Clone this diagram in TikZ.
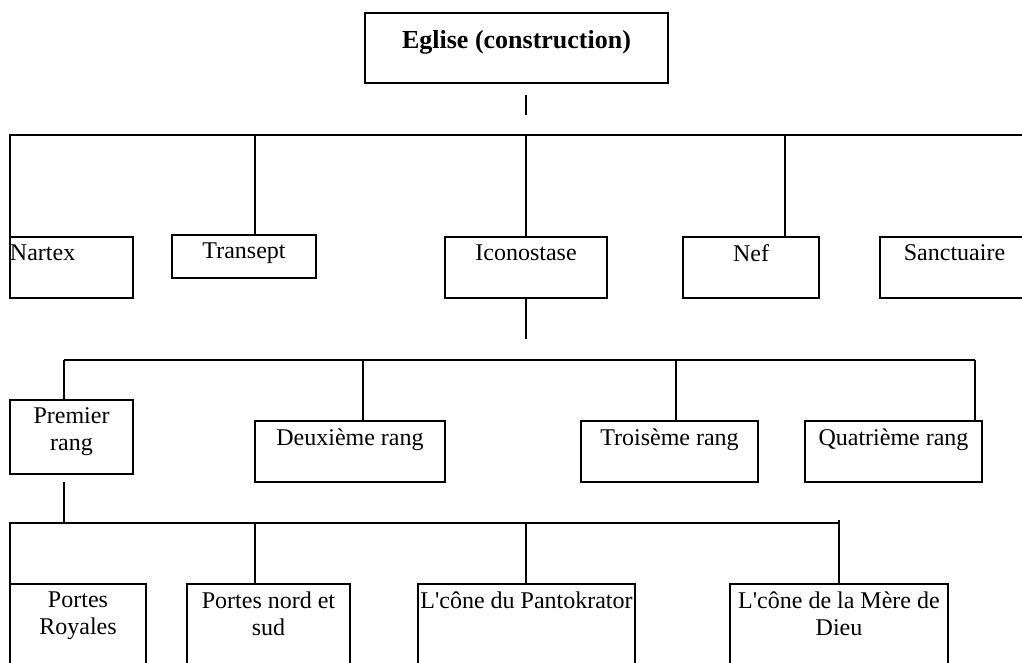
\documentclass[tikz,border=0pt]{standalone}
\usepackage{fontspec}
\setmainfont{Liberation Serif}

% text block at the top of a box: width, height, text
\newcommand{\cell}[3]{\parbox[t][#2][t]{#1}{\centering #3}}
\newcommand{\cellleft}[3]{\parbox[t][#2][t]{#1}{\raggedright #3}}

\begin{document}
\begin{tikzpicture}[
            x = 0.5pt, y = -0.5pt, % one unit is one pixel of the page
            line width = 0.9pt, % line style
            font = \fontsize{12}{13.5}\selectfont,
            box/.style = {draw, anchor=north west, outer sep=0pt, inner xsep=0pt, inner ysep=4pt}
        ]

	\useasboundingbox (0,0) rectangle (1022,663);
	\clip (0,0) rectangle (1022,663);

	% root
	\node[box, inner ysep=8.5pt] (eglise) at (365,13)
		{\cell{151.5pt}{18pt}{\fontsize{13}{15}\selectfont\bfseries Eglise (construction)}};

	% parts of the church
	\node[box] (nartex) at (10,237) {\cellleft{61.5pt}{22.5pt}{Nartex}};
	\node[box] (transept) at (172,235) {\cell{72pt}{13.5pt}{Transept}};
	\node[box] (icono) at (445,237) {\cell{81pt}{22.5pt}{Iconostase}};
	\node[box] (nef) at (683,237) {\cell{68pt}{22.5pt}{Nef}};
	\node[box] (sanct) at (880,237) {\cell{74.5pt}{22.5pt}{Sanctuaire}};

	% ranks of the iconostasis
	\node[box] (premier) at (10,400) {\cell{61.5pt}{29pt}{Premier\\rang}};
	\node[box] (deux) at (255,421) {\cell{95pt}{22.5pt}{Deuxième rang}};
	\node[box] (trois) at (581,421) {\cell{88.5pt}{22.5pt}{Troisème rang}};
	\node[box] (quat) at (805,421) {\cell{88.5pt}{22.5pt}{Quatrième rang}};

	% first rank
	\node[box] (royales) at (10,584) {\cell{68pt}{52pt}{Portes\\Royales}};
	\node[box] (nordsud) at (187,584) {\cell{81.5pt}{52pt}{Portes nord et\\sud}};
	\node[box] (panto) at (418,584) {\cell{108.5pt}{52pt}{L\textquotesingle cône du Pantokrator}};
	\node[box] (mere) at (730,584) {\cell{109pt}{52pt}{L\textquotesingle cône de la Mère de\\Dieu}};

	% first level
	\coordinate (s1) at (526,95);
	\coordinate (s1e) at (526,115);
	\coordinate (b1w) at (10,135);
	\coordinate (b1t) at (255,135);
	\coordinate (b1i) at (526,135);
	\coordinate (b1n) at (785,135);
	\coordinate (b1e) at (1040,135);
	\draw (s1) -- (s1e);
	\draw (nartex.north west) -- (b1w) -- (b1e);
	\foreach \c/\n in {b1t/transept, b1i/icono, b1n/nef}
		\draw (\c) -- (\c |- \n.north);

	% second level
	\coordinate (s2) at (526,339);
	\coordinate (b2a) at (64,360);
	\coordinate (b2b) at (363,360);
	\coordinate (b2c) at (676,360);
	\coordinate (b2d) at (975,360);
	\draw (icono.south) -- (s2);
	\draw (b2a) -- (b2d);
	\foreach \c/\n in {b2a/premier, b2b/deux, b2c/trois, b2d/quat}
		\draw (\c) -- (\c |- \n.north);

	% third level
	\coordinate (s3) at (64,482);
	\coordinate (b3a) at (10,523);
	\coordinate (b3b) at (255,523);
	\coordinate (b3c) at (526,523);
	\coordinate (b3d) at (839,523);
	\draw (s3) -- (s3 |- b3a);
	\draw (royales.north west) -- (b3a) -- (b3d);
	\draw (b3d |- 0,520) -- (b3d |- mere.north);
	\foreach \c/\n in {b3b/nordsud, b3c/panto}
		\draw (\c) -- (\c |- \n.north);

\end{tikzpicture}
\end{document}
